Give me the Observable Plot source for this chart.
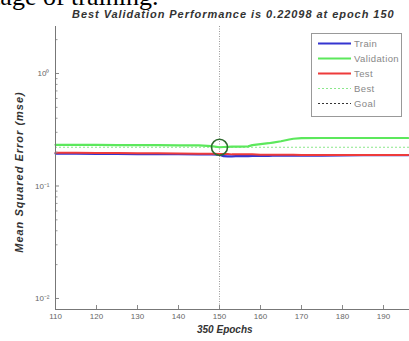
<!DOCTYPE html>
<html><head><meta charset="utf-8">
<script src="https://cdn.jsdelivr.net/npm/d3@7"></script>
<script src="https://cdn.jsdelivr.net/npm/@observablehq/plot@0.6"></script>
<style>
html,body{margin:0;padding:0;background:#fff;}
#wrap{position:relative;width:409px;height:341px;overflow:hidden;background:#fff;}
#wrap > svg{position:absolute;left:0;top:0;}
.t{position:absolute;font-family:Arial,"Liberation Sans",sans-serif;font-weight:bold;font-style:italic;color:#333;white-space:nowrap;}
#leg{position:absolute;left:311px;top:33px;width:91px;height:84px;border:1px solid #999;background:#fff;box-sizing:border-box;}
#leg svg{position:absolute;left:0;top:0;}
</style>
</head><body>
<div id="wrap"></div>
<script>
// ---- data ----
const epochs     = [110,115,120,125,130,135,140,145,148,150,151,152,153,155,157,158,160,162,163,165,167,168,170,175,180,185,190,196];
const trainMSE   = [0.194,0.194,0.193,0.193,0.192,0.192,0.192,0.191,0.191,0.190,0.184,0.183,0.183,0.185,0.184,0.185,0.186,0.185,0.186,0.186,0.186,0.186,0.186,0.186,0.187,0.188,0.188,0.188];
const valMSE     = [0.232,0.232,0.232,0.231,0.231,0.231,0.230,0.230,0.226,0.22098,0.222,0.223,0.224,0.224,0.225,0.231,0.236,0.240,0.243,0.250,0.259,0.263,0.266,0.267,0.267,0.267,0.267,0.267];
const testMSE    = [0.197,0.197,0.196,0.196,0.195,0.195,0.194,0.193,0.193,0.192,0.192,0.192,0.191,0.191,0.191,0.191,0.190,0.190,0.190,0.190,0.190,0.190,0.189,0.189,0.189,0.189,0.189,0.189];
const bestEpoch  = 150;
const bestValue  = 0.22098;
const xTicks     = [110,120,130,140,150,160,170,180,190];
const yTicks     = [0.01,0.1,1];
const yTickLabels= ["10\u207B\u00B2","10\u207B\u00B9","10\u2070"];
const yMinor     = [0.02,0.03,0.04,0.05,0.06,0.07,0.08,0.09,0.2,0.3,0.4,0.5,0.6,0.7,0.8,0.9,2];
const legendNames= ["Train","Validation","Test","Best","Goal"];
const titleText  = "Best Validation Performance is 0.22098 at epoch 150";
const xLabel     = "350 Epochs";
const yLabel     = "Mean Squared Error  (mse)";
const docText    = "stage of training.";

const colors = {Train:"#3535d0", Validation:"#5ce85c", Test:"#ee3b3b", Best:"#8be88b", Goal:"#333"};

(function(){
const rows = epochs.map((e,i)=>({e, train:trainMSE[i], val:valMSE[i], test:testMSE[i]}));

const plot = Plot.plot({
  width:409, height:341,
  marginTop:26, marginBottom:32, marginLeft:55, marginRight:0,
  style:{fontFamily:"Arial, 'Liberation Sans', sans-serif", fontSize:"8px", color:"#666", background:"transparent"},
  x:{domain:[110,196.34]},
  y:{type:"log", domain:[0.00798,2.617]},
  marks:[
    Plot.ruleX([bestEpoch],{stroke:"#999", strokeWidth:1, strokeDasharray:"1,1.5"}),
    Plot.ruleY([bestValue],{stroke:colors.Best, strokeWidth:1, strokeDasharray:"2,2"}),
    Plot.line(rows,{x:"e", y:"train", stroke:colors.Train, strokeWidth:2.2}),
    Plot.line(rows,{x:"e", y:"val", stroke:colors.Validation, strokeWidth:2.2}),
    Plot.line(rows,{x:"e", y:"test", stroke:colors.Test, strokeWidth:2}),
    Plot.dot([{e:bestEpoch, v:bestValue}],{x:"e", y:"v", r:8, stroke:"#2f6a2f", strokeWidth:1.6, fill:"none"}),
    Plot.axisX({ticks:xTicks, tickSize:-4, tickPadding:8, stroke:"#888", color:"#666", label:null}),
    Plot.axisY({ticks:yTicks, tickSize:-4, tickPadding:10, tickFormat:(d)=>yTickLabels[yTicks.indexOf(d)], stroke:"#888", color:"#666", label:null}),
    Plot.axisY({ticks:yMinor, tickSize:-2.5, tickFormat:()=>"", stroke:"#999", label:null}),
    Plot.ruleX([110],{stroke:"#777", strokeWidth:1}),
    Plot.ruleY([0.00798],{stroke:"#777", strokeWidth:1})
  ]
});
const wrap = document.getElementById("wrap");
wrap.appendChild(plot);

const dt = document.createElement("div");
dt.textContent = docText;
dt.style.cssText = "position:absolute;left:-17px;top:-18px;font-family:'Liberation Serif','Times New Roman',serif;font-size:26px;color:#000;white-space:nowrap;";
wrap.appendChild(dt);

const title = document.createElement("div");
title.className = "t"; title.textContent = titleText;
title.style.cssText += "left:72px;top:8px;font-size:11px;letter-spacing:0.95px;";
wrap.appendChild(title);

const xl = document.createElement("div");
xl.className = "t"; xl.textContent = xLabel;
xl.style.cssText += "left:197px;top:324px;font-size:10px;";
wrap.appendChild(xl);

const yl = document.createElement("div");
yl.className = "t"; yl.textContent = yLabel;
yl.style.cssText += "left:19px;top:172px;font-size:11px;letter-spacing:1px;transform:translate(-50%,-50%) rotate(-90deg);";
wrap.appendChild(yl);

const leg = document.createElement("div");
leg.id = "leg";
const ns = "http://www.w3.org/2000/svg";
const ls = document.createElementNS(ns,"svg");
ls.setAttribute("width","91"); ls.setAttribute("height","84");
legendNames.forEach((n,i)=>{
  const y = 9.5 + i*15;
  const ln = document.createElementNS(ns,"line");
  ln.setAttribute("x1","6"); ln.setAttribute("x2","39");
  ln.setAttribute("y1",y); ln.setAttribute("y2",y);
  ln.setAttribute("stroke",colors[n]);
  ln.setAttribute("stroke-width", n==="Best"||n==="Goal" ? "1" : "2");
  if(n==="Best"||n==="Goal") ln.setAttribute("stroke-dasharray","2,2");
  ls.appendChild(ln);
  const tx = document.createElementNS(ns,"text");
  tx.setAttribute("x","42"); tx.setAttribute("y",y+3.5);
  tx.setAttribute("font-family","Arial, 'Liberation Sans', sans-serif");
  tx.setAttribute("font-size","9.5");
  tx.setAttribute("letter-spacing","0.4");
  tx.setAttribute("fill","#888");
  tx.textContent = n;
  ls.appendChild(tx);
});
leg.appendChild(ls);
wrap.appendChild(leg);
})();
</script>
</body></html>
